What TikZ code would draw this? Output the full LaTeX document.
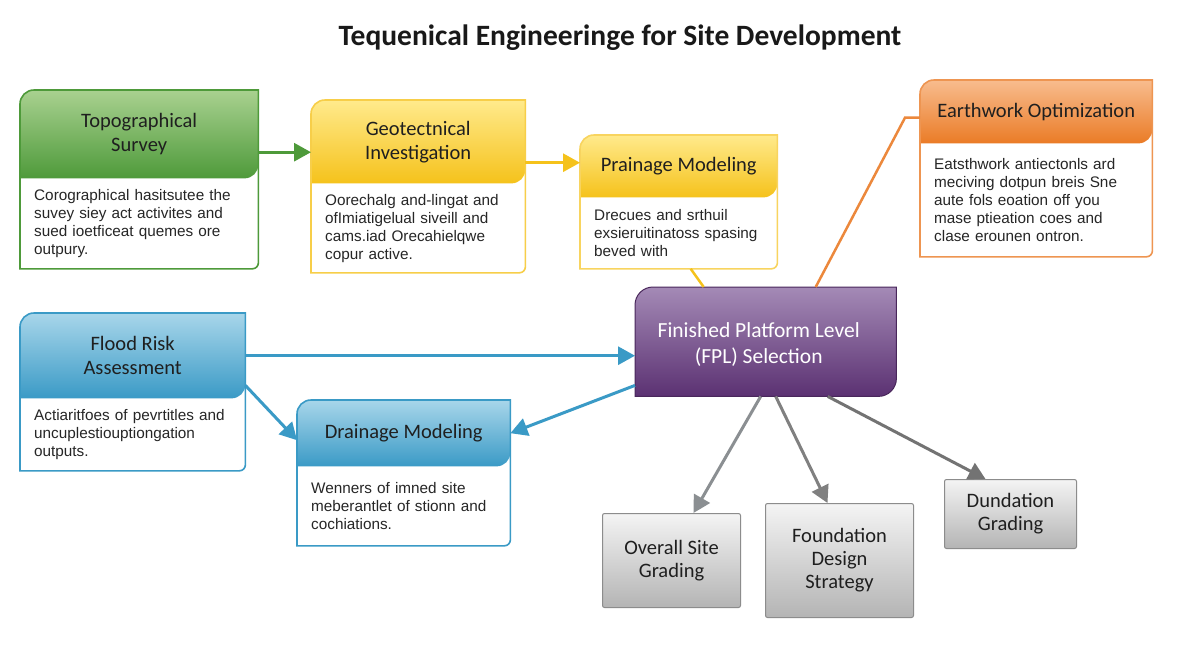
\documentclass[tikz,border=0pt]{standalone}
\usepackage{fontspec}
\setmainfont{Carlito}
\newfontfamily\bodyfont{Liberation Sans}
\usetikzlibrary{arrows.meta,backgrounds,calc,positioning}

\definecolor{grnA}{HTML}{A9D190}
\definecolor{grnB}{HTML}{4E9A3A}
\definecolor{ylwA}{HTML}{FFEA8C}
\definecolor{ylwB}{HTML}{F5C21B}
\definecolor{orgA}{HTML}{F8BC8E}
\definecolor{orgB}{HTML}{EA7B26}
\definecolor{bluA}{HTML}{A8D6EA}
\definecolor{bluB}{HTML}{3A9AC6}
\definecolor{purA}{HTML}{A48AB6}
\definecolor{purB}{HTML}{5B3172}
\definecolor{gryA}{HTML}{F4F4F4}
\definecolor{gryB}{HTML}{B4B4B4}

% header node, body node, top colour, bottom colour, border colour
\newcommand\cardframe[5]{%
  \shade[top color=#3, bottom color=#4]
    (#1.south west) -- ([yshift=-14pt]#1.north west)
    arc[start angle=180, end angle=90, radius=14pt] -- (#1.north east)
    -- ([yshift=14pt]#1.south east)
    arc[start angle=0, end angle=-90, radius=14pt] -- cycle;
  \draw[#5, line width=1.6pt]
    (#2.south west) -- ([yshift=-14pt]#1.north west)
    arc[start angle=180, end angle=90, radius=14pt] -- (#1.north east)
    -- ([yshift=6pt]#2.south east)
    arc[start angle=0, end angle=-90, radius=6pt] -- cycle;}

\begin{document}
\begin{tikzpicture}[
    x=1pt, y=-1pt,
    hdr/.style={anchor=north west, align=center, inner sep=0pt,
                font=\fontsize{20.5}{24}\selectfont, text=black!88},
    cardtext/.style={below=0pt of #1, align=left, inner xsep=14pt,
                inner ysep=0pt, font=\bodyfont\fontsize{15.3}{18}\selectfont,
                text=black!85},
    gradebox/.style={draw=black!45, line width=1pt, rounded corners=2pt,
                top color=gryA, bottom color=gryB, align=center,
                anchor=north west, font=\fontsize{20.5}{23}\selectfont,
                text=black!88},
    arrowline/.style={line width=3pt, -{Triangle[length=17pt, width=18pt]}},
    joinline/.style={line width=2.5pt}
]
    \useasboundingbox (0,0) rectangle (1200,654);

    \node[font=\bfseries\fontsize{29.5}{34}\selectfont, text=black!90] (title)
        at (620,38) {Tequenical Engineeringe for Site Development};

    \node[hdr, minimum width=238pt, minimum height=88pt] (topo) at (20,90)
        {Topographical\\Survey};
    \node[cardtext=topo, text width=210pt, minimum height=90pt] (topob)
        {Corographical hasitsutee the\\suvey siey act activites and\\sued ioetficeat quemes ore\\outpury.};

    \node[hdr, minimum width=214pt, minimum height=83pt] (geo) at (311,100)
        {Geotectnical\\Investigation};
    \node[cardtext=geo, text width=186pt, minimum height=89pt] (geob)
        {Oorechalg and-lingat and\\ofImiatigelual siveill and\\cams.iad Orecahielqwe\\copur active.};

    \node[hdr, minimum width=197pt, minimum height=62pt] (prain) at (580,135)
        {Prainage Modeling};
    \node[cardtext=prain, text width=169pt, minimum height=71pt] (prainb)
        {Drecues and srthuil\\exsieruitinatoss spasing\\beved with};

    \node[hdr, minimum width=232pt, minimum height=63pt] (earth) at (920,80)
        {Earthwork Optimization};
    \node[cardtext=earth, text width=204pt, minimum height=113pt] (earthb)
        {Eatsthwork antiectonls ard\\meciving dotpun breis Sne\\aute fols eoation off you\\mase ptieation coes and\\clase erounen ontron.};

    \node[hdr, minimum width=225pt, minimum height=85pt] (flood) at (20,313)
        {Flood Risk\\Assessment};
    \node[cardtext=flood, text width=197pt, minimum height=72pt] (floodb)
        {Actiaritfoes of pevrtitles and\\uncuplestiouptiongation\\outputs.};

    \node[hdr, minimum width=213pt, minimum height=66pt] (drain) at (297,400)
        {Drainage Modeling};
    \node[cardtext=drain, text width=185pt, minimum height=79pt] (drainb)
        {Wenners of imned site\\meberantlet of stionn and\\cochiations.};

    \node[anchor=north west, minimum width=261pt, minimum height=109pt]
        (fpl) at (635,287) {};
    \node[align=center, text=white, font=\fontsize{21.5}{26}\selectfont]
        (fpltext) at ([xshift=-7pt, yshift=-3pt]fpl.center)
        {Finished Platform Level\\(FPL) Selection};

    \node[gradebox, minimum width=138pt, minimum height=94pt] (overall)
        at (602,513) {Overall Site\\Grading};
    \node[gradebox, minimum width=148pt, minimum height=114pt] (found)
        at (765,503) {Foundation\\Design\\Strategy};
    \node[gradebox, minimum width=132pt, minimum height=69pt] (dund)
        at (944,479) {Dundation\\Grading};

    \begin{scope}[on background layer]
        \fill[white] (0,0) rectangle (1200,654);
        \cardframe{topo}{topob}{grnA}{grnB}{grnB}
        \cardframe{geo}{geob}{ylwA}{ylwB}{ylwB!80}
        \cardframe{prain}{prainb}{ylwA}{ylwB}{ylwB!70}
        \cardframe{earth}{earthb}{orgA}{orgB}{orgB!80}
        \cardframe{flood}{floodb}{bluA}{bluB}{bluB}
        \cardframe{drain}{drainb}{bluA}{bluB}{bluB}
        \shadedraw[top color=purA, bottom color=purB,
                   draw=purB!80!black, line width=1pt]
            (fpl.south west) -- ([yshift=-18pt]fpl.north west)
            arc[start angle=180, end angle=90, radius=18pt] -- (fpl.north east)
            -- ([yshift=18pt]fpl.south east)
            arc[start angle=0, end angle=-90, radius=18pt] -- cycle;
    \end{scope}

    \draw[arrowline, grnB] ([yshift=-18pt]topo.east)
        -- ([yshift=-18pt]topo.east -| geo.west);
    \draw[arrowline, ylwB] ([yshift=-21pt]geo.east)
        -- ([yshift=-21pt]geo.east -| prain.west);
    \draw[joinline, ylwB] ([xshift=12pt]prainb.south)
        -- ([xshift=-62pt]fpl.north);
    \draw[joinline, orgB!90] ([yshift=-6pt]earth.west) -- ++(-15pt,0)
        -- ([xshift=50pt]fpl.north);
    \draw[arrowline, bluB] (flood.east) -- (flood.east -| fpl.west);
    \draw[arrowline, bluB] ([yshift=13pt]flood.south east)
        -- ([yshift=-7pt]drain.west);
    \draw[arrowline, bluB] ([yshift=11pt]fpl.south west) -- (drain.east);
    \draw[arrowline, black!35!cyan!10!gray] ([xshift=-5pt]fpl.south)
        -- ([xshift=22pt]overall.north);
    \draw[arrowline, black!50] ([xshift=10pt]fpl.south)
        -- ([xshift=-12pt]found.north);
    \draw[arrowline, black!55] ([xshift=62pt]fpl.south)
        -- ([xshift=-25pt]dund.north);
\end{tikzpicture}
\end{document}
